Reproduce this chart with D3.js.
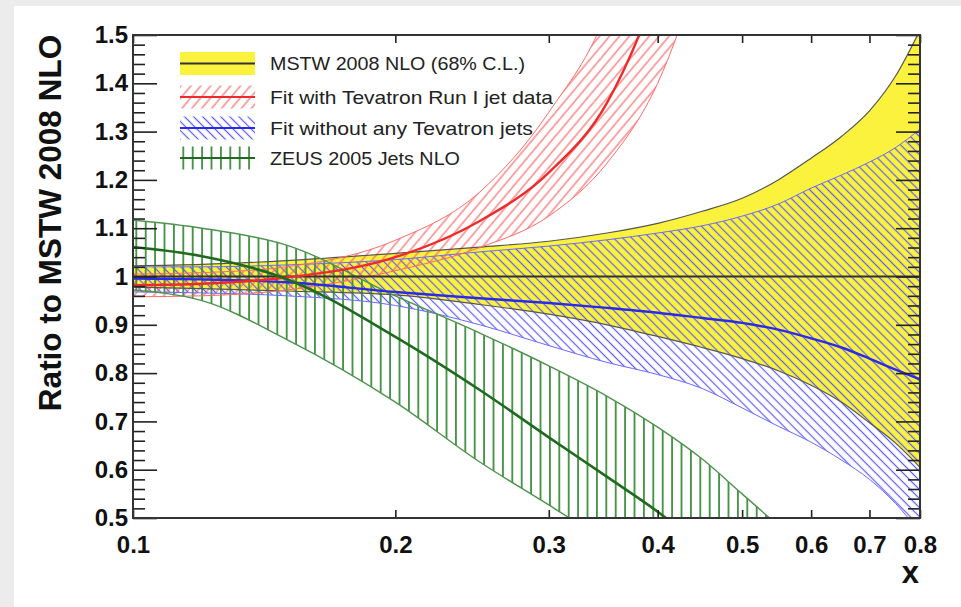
<!DOCTYPE html>
<html>
<head>
<meta charset="utf-8">
<script src="https://cdn.jsdelivr.net/npm/d3@7"></script>
<style>
	body { margin: 0; background: #ececec; }
	svg { display: block; }
	text { font-family: "Liberation Sans", Arial, Helvetica, sans-serif; }
</style>
</head>
<body>
<div id="divplot"></div>
<script>
// Ratio to MSTW 2008 NLO

const xs = [0.1, 0.12, 0.15, 0.2, 0.25, 0.3, 0.35, 0.4, 0.45, 0.5, 0.55, 0.6, 0.65, 0.7, 0.75, 0.8]
const mstwCen = xs.map(() => 1)
const mstwUp = [1.022, 1.025, 1.033, 1.048, 1.061, 1.073, 1.09, 1.11, 1.135, 1.162, 1.2, 1.245, 1.29, 1.343, 1.415, 1.51]
const mstwLo = [0.978, 0.975, 0.97, 0.962, 0.942, 0.922, 0.9, 0.876, 0.853, 0.83, 0.805, 0.775, 0.74, 0.697, 0.655, 0.605]

const noTevCen = [0.996, 0.994, 0.988, 0.968, 0.955, 0.945, 0.935, 0.925, 0.914, 0.904, 0.89, 0.872, 0.853, 0.83, 0.807, 0.787]
const noTevUp = [1.02, 1.02, 1.024, 1.035, 1.051, 1.063, 1.076, 1.09, 1.105, 1.125, 1.15, 1.183, 1.21, 1.237, 1.267, 1.305]
const noTevLo = [0.968, 0.966, 0.96, 0.94, 0.9, 0.857, 0.822, 0.797, 0.768, 0.728, 0.69, 0.657, 0.62, 0.58, 0.53, 0.47]

const tevX = [0.1, 0.12, 0.15, 0.2, 0.25, 0.3, 0.35, 0.4, 0.45]
const tevCen = [0.982, 0.985, 0.998, 1.04, 1.115, 1.215, 1.36, 1.6, 1.9]
const tevUp = [1.005, 1.008, 1.02, 1.075, 1.175, 1.34, 1.55, 1.9, 2.3]
const tevLo = [0.958, 0.96, 0.972, 1.012, 1.06, 1.125, 1.235, 1.4, 1.65]

const zeusX = [0.1, 0.12, 0.15, 0.2, 0.25, 0.3, 0.35, 0.4, 0.45, 0.5, 0.55, 0.6]
const zeusCen = [1.061, 1.042, 0.995, 0.875, 0.765, 0.667, 0.585, 0.513, 0.44, 0.37, 0.3, 0.23]
const zeusUp = [1.117, 1.1, 1.065, 0.96, 0.883, 0.815, 0.752, 0.688, 0.622, 0.55, 0.485, 0.43]
const zeusLo = [0.972, 0.95, 0.87, 0.74, 0.616, 0.527, 0.45, 0.38, 0.31, 0.25, 0.19, 0.13]

const xTickVals = [0.1, 0.2, 0.3, 0.4, 0.5, 0.6, 0.7, 0.8]
const xTickLabels = ['0.1', '0.2', '0.3', '0.4', '0.5', '0.6', '0.7', '0.8']
const yTickVals = [0.5, 0.6, 0.7, 0.8, 0.9, 1.0, 1.1, 1.2, 1.3, 1.4, 1.5]
const yTickLabels = ['0.5', '0.6', '0.7', '0.8', '0.9', '1', '1.1', '1.2', '1.3', '1.4', '1.5']
const yMinorVals = d3.range(0.52, 1.5, 0.02).filter(v => Math.abs(v * 10 - Math.round(v * 10)) > 0.01)

const legendLabels = ['MSTW 2008 NLO (68% C.L.)', 'Fit with Tevatron Run I jet data', 'Fit without any Tevatron jets', 'ZEUS 2005 Jets NLO']

const plot = () => {
	let width = 961
	let height = 607
	let left = 133, right = 920, top = 35, bottom = 518

	let xScale = d3.scaleLog()
		.domain([0.1, 0.8])
		.range([left, right])

	let yScale = d3.scaleLinear()
		.domain([0.5, 1.5])
		.range([bottom, top])

	let svg = d3.select('#divplot')
		.append('svg')
		.attr('width', width)
		.attr('height', height)

	svg.append('rect')
		.attr('x', 14).attr('y', 6)
		.attr('width', width - 14).attr('height', height - 6)
		.attr('fill', 'white')

	let defs = svg.append('defs')
	defs.append('clipPath').attr('id', 'clip')
		.append('rect')
		.attr('x', left).attr('y', top)
		.attr('width', right - left).attr('height', bottom - top)

	// hatch patterns, ROOT style
	const hatch = (id, gap, angle, color, lw) => {
		let p = defs.append('pattern')
			.attr('id', id)
			.attr('patternUnits', 'userSpaceOnUse')
			.attr('width', gap).attr('height', 20)
			.attr('patternTransform', `rotate(${angle})`)
		p.append('line')
			.attr('x1', gap / 2).attr('x2', gap / 2)
			.attr('y1', 0).attr('y2', 20)
			.attr('stroke', color)
			.attr('stroke-width', lw)
	}
	hatch('hRed', 7.6, 40, '#ff5a5a', 1.1)
	hatch('hBlue', 6.4, -45, '#5a5aff', 1.2)
	hatch('hGreen', 9.4, 0, '#3f8f3f', 1.8)

	const band = (xv, lo, up) => xv.map((x, i) => ({ x: x, lo: lo[i], up: up[i] }))
	const pts = (xv, yv) => xv.map((x, i) => ({ x: x, y: yv[i] }))

	let area = d3.area()
		.x(d => xScale(d.x))
		.y0(d => yScale(d.lo))
		.y1(d => yScale(d.up))
		.curve(d3.curveMonotoneX)

	let line = d3.line()
		.x(d => xScale(d.x))
		.y(d => yScale(d.y))
		.curve(d3.curveMonotoneX)

	let g = svg.append('g').attr('clip-path', 'url(#clip)')

	// bands
	g.append('path').datum(band(xs, mstwLo, mstwUp))
		.attr('d', area).attr('fill', '#fbf23e')
	g.append('path').datum(band(xs, noTevLo, noTevUp))
		.attr('d', area).attr('fill', 'url(#hBlue)')
	g.append('path').datum(band(tevX, tevLo, tevUp))
		.attr('d', area).attr('fill', 'url(#hRed)')
	g.append('path').datum(band(zeusX, zeusLo, zeusUp))
		.attr('d', area).attr('fill', 'url(#hGreen)')

	// band edges and central lines
	const curves = [
		[xs, mstwUp, '#555', 1.2], [xs, mstwLo, '#555', 1.2],
		[xs, noTevUp, '#6a6aff', 1], [xs, noTevLo, '#6a6aff', 1],
		[tevX, tevUp, '#ff6a6a', 1], [tevX, tevLo, '#ff6a6a', 1],
		[zeusX, zeusUp, '#4d944d', 1.4], [zeusX, zeusLo, '#4d944d', 1.4],
		[xs, mstwCen, '#333', 2],
		[xs, noTevCen, '#2a2aee', 2.4],
		[tevX, tevCen, '#ee2a2a', 2.4],
		[zeusX, zeusCen, '#1f6a1f', 2.6]
	]
	curves.forEach(c => {
		g.append('path').datum(pts(c[0], c[1]))
			.attr('d', line)
			.attr('fill', 'none')
			.attr('stroke', c[2])
			.attr('stroke-width', c[3])
	})

	// axes: ticks inward on all four sides
	const tickStyle = sel => {
		sel.select('.domain').remove()
		sel.selectAll('line').attr('stroke', '#222').attr('stroke-width', 1.6)
		sel.selectAll('text')
			.attr('fill', '#111')
			.attr('font-size', 24)
			.attr('font-weight', 'bold')
	}

	svg.append('g').attr('transform', `translate(${left},0)`)
		.call(d3.axisLeft(yScale).tickValues(yTickVals).tickSize(-24).tickPadding(5)
			.tickFormat((d, i) => yTickLabels[i]))
		.call(tickStyle)
	svg.append('g').attr('transform', `translate(${left},0)`)
		.call(d3.axisLeft(yScale).tickValues(yMinorVals).tickSize(-12).tickFormat(''))
		.call(tickStyle)
	svg.append('g').attr('transform', `translate(${right},0)`)
		.call(d3.axisRight(yScale).tickValues(yTickVals).tickSize(-24).tickFormat(''))
		.call(tickStyle)
	svg.append('g').attr('transform', `translate(${right},0)`)
		.call(d3.axisRight(yScale).tickValues(yMinorVals).tickSize(-12).tickFormat(''))
		.call(tickStyle)
	svg.append('g').attr('transform', `translate(0,${bottom})`)
		.call(d3.axisBottom(xScale).tickValues(xTickVals).tickSize(-8).tickPadding(18)
			.tickFormat((d, i) => xTickLabels[i]))
		.call(tickStyle)
	svg.append('g').attr('transform', `translate(0,${top})`)
		.call(d3.axisTop(xScale).tickValues(xTickVals).tickSize(-8).tickFormat(''))
		.call(tickStyle)

	svg.append('rect')
		.attr('x', left).attr('y', top)
		.attr('width', right - left).attr('height', bottom - top)
		.attr('fill', 'none')
		.attr('stroke', '#333')
		.attr('stroke-width', 2)

	// axis titles
	svg.append('text')
		.attr('transform', 'translate(61,223) rotate(-90)')
		.attr('text-anchor', 'middle')
		.attr('font-size', 31.5)
		.attr('font-weight', 'bold')
		.attr('fill', '#111')
		.text('Ratio to MSTW 2008 NLO')

	svg.append('text')
		.attr('x', 919).attr('y', 583)
		.attr('text-anchor', 'end')
		.attr('font-size', 31)
		.attr('font-weight', 'bold')
		.attr('fill', '#111')
		.text('x')

	// legend
	let legX = 180, legW = 75, legH = 23
	let rowMid = [63.5, 97, 128, 158]
	let rowFill = ['#fbf23e', 'url(#hRed)', 'url(#hBlue)', 'url(#hGreen)']
	let rowLine = ['#333', '#ee2a2a', '#2a2aee', '#1f6a1f']
	let textLen = [255, 283, 263, 190]

	let leg = svg.append('g')
	leg.selectAll('rect.box')
		.data(legendLabels)
		.enter()
		.append('rect')
		.attr('class', 'box')
		.attr('x', legX)
		.attr('y', (d, i) => rowMid[i] - legH / 2)
		.attr('width', legW)
		.attr('height', legH)
		.attr('fill', (d, i) => rowFill[i])
	leg.selectAll('line.ln')
		.data(legendLabels)
		.enter()
		.append('line')
		.attr('class', 'ln')
		.attr('x1', legX).attr('x2', legX + legW)
		.attr('y1', (d, i) => rowMid[i]).attr('y2', (d, i) => rowMid[i])
		.attr('stroke', (d, i) => rowLine[i])
		.attr('stroke-width', 2.2)
	leg.selectAll('text')
		.data(legendLabels)
		.enter()
		.append('text')
		.attr('x', 270)
		.attr('y', (d, i) => rowMid[i] + 6.5)
		.attr('font-size', 19)
		.attr('textLength', (d, i) => textLen[i])
		.attr('lengthAdjust', 'spacingAndGlyphs')
		.attr('fill', '#222')
		.text(d => d)
}

plot()
</script>
</body>
</html>
